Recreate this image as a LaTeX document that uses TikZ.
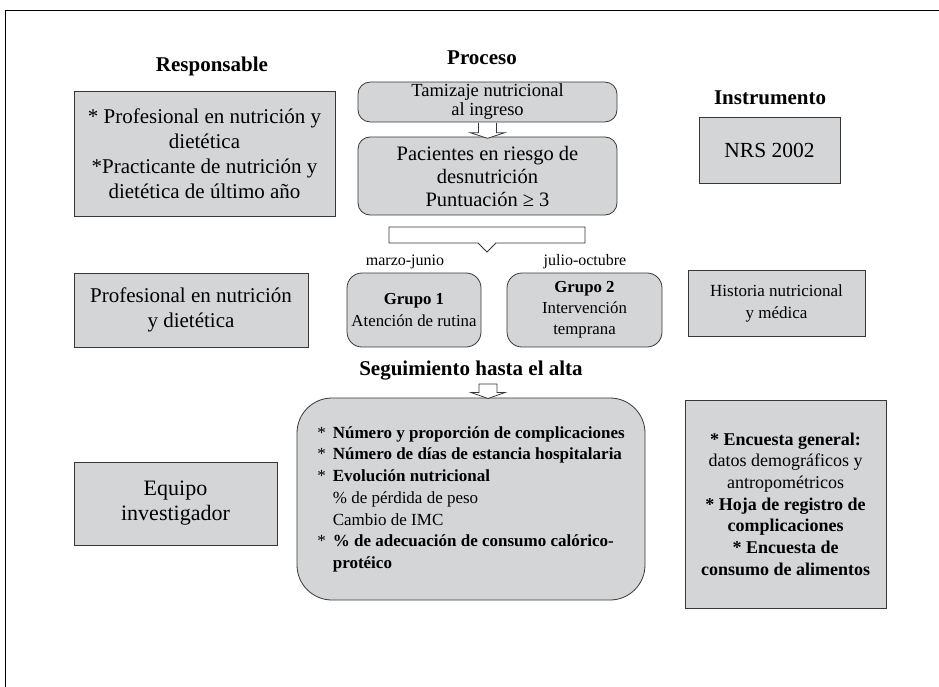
\documentclass[tikz,border=0pt]{standalone}
\usepackage{fontspec}
\setmainfont{Liberation Serif}
\usepackage{tikz}
\usetikzlibrary{shapes.callouts}

\definecolor{boxgray}{RGB}{212,213,215}
\definecolor{edgegray}{RGB}{55,55,55}

\begin{document}
\begin{tikzpicture}[
    x=1pt, y=-1pt,
    sqbox/.style={draw=edgegray, fill=boxgray, align=center, inner sep=2pt,
                  line width=0.8pt},
    rndbox/.style={sqbox, rounded corners=12pt},
    head/.style={font=\bfseries\fontsize{21}{24}\selectfont},
    note/.style={font=\fontsize{16}{18}\selectfont},
    hollow/.style={draw=edgegray, fill=white, line width=0.8pt, line join=miter},
  ]
  \useasboundingbox (0,0) rectangle (939,687);

  % --- frame ---
  \coordinate (fbl) at (5,687);
  \coordinate (ftl) at (5,10);
  \coordinate (ftr) at (939,10);
  \draw[line width=0.8pt] (fbl) -- (ftl) -- (ftr);

  % --- column heads ---
  \node[head] (hresp) at (212,66) {Responsable};
  \node[head] (hproc) at (482,58) {Proceso};
  \node[head] (hinst) at (770,98) {Instrumento};

  % --- process chain ---
  \node[rndbox, minimum width=259pt, minimum height=38pt,
        font=\fontsize{18.5}{19}\selectfont] (tam) at (487.5,102)
    {Tamizaje nutricional\\ al ingreso};
  \node[rndbox, minimum width=259pt, minimum height=78pt,
        font=\fontsize{20.5}{23}\selectfont] (pac) at (487.5,176)
    {Pacientes en riesgo de\\ desnutrición\\ Puntuación \char"2265\ 3};
  % hollow arrow tam -> pac
  \draw[hollow] (tam.south) ++(-9,0.5) -- ++(0,10) -- ++(-8,0) -- ++(17,5.5)
    -- ++(17,-5.5) -- ++(-8,0) -- ++(0,-10);

  \node[rectangle callout, draw=edgegray, fill=white, line width=0.8pt,
        minimum width=196pt, minimum height=16pt, inner sep=0pt,
        callout absolute pointer={(487,252)}, callout pointer width=18pt]
    (split) at (487,235) {};

  \node[note] (mj) at (405,262) {marzo-junio};
  \node[note] (jo) at (585,262) {julio-octubre};

  \node[rndbox, rounded corners=15pt, minimum width=134pt, minimum height=74pt,
        font=\fontsize{16.8}{22}\selectfont] (g1) at (414,310)
    {\textbf{Grupo 1}\\ Atención de rutina};
  \node[rndbox, rounded corners=15pt, minimum width=155pt, minimum height=74pt,
        font=\fontsize{16.8}{21}\selectfont] (g2) at (584.5,310)
    {\textbf{Grupo 2}\\ Intervención\\ temprana};

  \node[head] (hseg) at (471,371) {Seguimiento hasta el alta};

  \node[rndbox, rounded corners=35pt, minimum width=348pt, minimum height=202pt,
        font=\fontsize{17}{21.7}\selectfont] (big) at (471,499)
    {\begin{tabular}{@{}l@{\hspace{7pt}}l@{}}
      {*} & \textbf{Número y proporción de complicaciones}\\
      {*} & \textbf{Número de días de estancia hospitalaria}\\
      {*} & \textbf{Evolución nutricional}\\
          & \% de pérdida de peso\\
          & Cambio de IMC\\
      {*} & \textbf{\% de adecuación de consumo calórico-}\\
          & \textbf{protéico}
    \end{tabular}};
  % hollow arrow hseg -> big
  \coordinate (a2top) at (488,384);
  \draw[hollow] (a2top) ++(-9,0) -- ++(0,8.5) -- ++(-8,0) -- ++(17,6)
    -- ++(17,-6) -- ++(-8,0) -- ++(0,-8.5) -- cycle;

  % --- responsables ---
  \node[sqbox, minimum width=261pt, minimum height=125pt,
        font=\fontsize{21}{25}\selectfont] (resp1) at (204.5,153.5)
    {* Profesional en nutrición y\\ dietética\\ *Practicante de nutrición y\\ dietética de último año};
  \node[sqbox, minimum width=234pt, minimum height=74pt,
        font=\fontsize{21}{25}\selectfont] (resp2) at (191,310)
    {Profesional en nutrición\\ y dietética};
  \node[sqbox, minimum width=203pt, minimum height=83pt,
        font=\fontsize{22}{25}\selectfont] (resp3) at (175.5,503.5)
    {Equipo\\ investigador};

  % --- instrumentos ---
  \node[sqbox, minimum width=141pt, minimum height=66pt,
        font=\fontsize{21.5}{22}\selectfont] (inst1) at (769.5,150) {NRS 2002};
  \node[sqbox, minimum width=177pt, minimum height=66pt,
        font=\fontsize{17}{22}\selectfont] (inst2) at (776.5,303)
    {Historia nutricional\\ y médica};
  \node[sqbox, minimum width=201pt, minimum height=208pt,
        font=\fontsize{18}{21.7}\selectfont] (inst3) at (785.5,504)
    {\textbf{* Encuesta general:}\\ datos demográficos y\\ antropométricos\\
     \textbf{* Hoja de registro de}\\ \textbf{complicaciones}\\
     \textbf{* Encuesta de}\\ \textbf{consumo de alimentos}};
\end{tikzpicture}
\end{document}
